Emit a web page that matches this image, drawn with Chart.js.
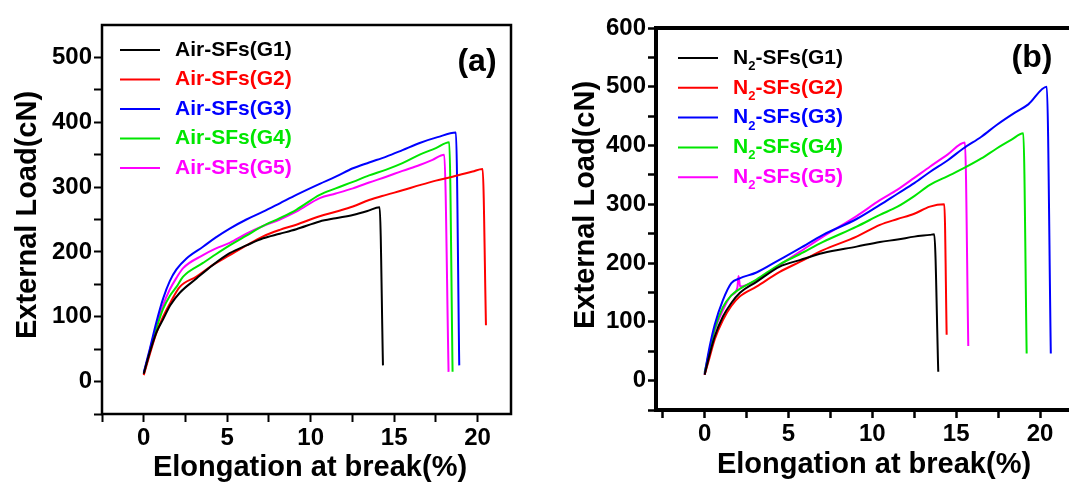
<!DOCTYPE html>
<html>
<head>
<meta charset="utf-8">
<script src="https://cdn.jsdelivr.net/npm/chart.js@4.4.1/dist/chart.umd.min.js"></script>
<style>
  html, body { margin: 0; padding: 0; background: #fff; }
  #page { position: relative; width: 1069px; height: 482px; overflow: hidden; }
  #wrapA { position: absolute; left: 0; top: 0; }
  #wrapB { position: absolute; left: 535px; top: 0; }
</style>
</head>
<body>
<div id="page">
  <div id="wrapA"><canvas id="chartA" width="535" height="500"></canvas></div>
  <div id="wrapB"><canvas id="chartB" width="600" height="500"></canvas></div>
</div>
<script>
// ---- data: [elongation %, load cN] ----
const airG1 = [[0,12],[0.36,45],[0.76,76],[1.16,96],[1.6,118],[2.16,137],[3.16,159],[4.15,180],[5.15,198],[6.15,210],[7.15,221],[8.15,228],[9.14,235],[10.54,247],[11.5,252],[12.53,257],[13.4,263],[14.13,269],[14.33,25]];
const airG2 = [[0,10],[0.36,42],[0.76,75],[1.16,100],[1.6,122],[2.16,146],[3.16,162],[4.15,180],[5.15,195],[6.15,210],[7.15,224],[8.15,234],[9.14,242],[10.54,255],[11.5,262],[12.53,270],[13.5,280],[14.53,288],[15.5,295],[16.53,303],[17.5,310],[18.5,316],[19.7,324],[20.3,328],[20.5,87]];
const airG3 = [[0,14],[0.36,50],[0.76,92],[1.16,128],[1.56,155],[1.96,173],[2.56,190],[3.55,208],[4.3,222],[5.15,236],[6.15,250],[7.15,262],[8.15,275],[9.14,288],[10.54,305],[11.5,316],[12.53,329],[13.5,338],[14.53,347],[15.5,357],[16.53,368],[17.6,377],[18.7,384],[18.9,25]];
const airG4 = [[0,12],[0.36,46],[0.76,82],[1.16,112],[1.56,132],[1.96,146],[2.36,162],[3.55,183],[4.3,196],[5.15,210],[6.15,225],[7.15,240],[8.15,252],[9.14,265],[10.54,288],[11.5,298],[12.53,308],[13.5,318],[14.53,327],[15.5,337],[16.53,350],[17.5,360],[18.3,369],[18.5,15]];
const airG5 = [[0,12],[0.36,48],[0.76,86],[1.16,118],[1.56,142],[1.96,160],[2.36,175],[3.55,195],[4.3,205],[5.15,214],[6.15,228],[7.15,240],[8.15,250],[9.14,262],[10.54,283],[11.5,290],[12.53,298],[13.5,307],[14.53,316],[15.5,325],[16.53,334],[17.3,342],[18.0,350],[18.26,15]];

const n2G1 = [[0,10],[0.3,45],[0.6,75],[1.09,109],[1.59,132],[2.09,149],[3.09,168],[4.48,194],[5.67,205],[7.06,217],[9.06,228],[10.45,236],[11.5,240],[12.5,245],[13.43,248],[13.69,249],[13.93,15]];
const n2G2 = [[0,10],[0.3,40],[0.6,70],[1.09,103],[1.59,127],[2.09,143],[3.09,160],[4.48,185],[5.67,202],[7.06,222],[9.06,245],[10.45,265],[11.5,275],[12.5,284],[13.43,296],[14.29,300],[14.43,78]];
const n2G3 = [[0,12],[0.3,58],[0.6,95],[1.09,137],[1.59,166],[2.09,174],[3.09,184],[4.48,206],[5.67,225],[7.06,248],[9.06,275],[10.45,299],[11.5,318],[12.5,336],[13.43,355],[14.5,375],[15.42,395],[16.5,415],[17.41,435],[18.5,456],[19.3,470],[20.4,500],[20.64,46]];
const n2G4 = [[0,14],[0.3,52],[0.6,88],[1.09,125],[1.59,145],[2.09,156],[3.09,172],[4.48,198],[5.67,215],[7.06,236],[9.06,262],[10.45,282],[11.5,296],[12.5,314],[13.43,333],[14.5,348],[15.42,361],[16.5,378],[17.41,395],[18.3,410],[19.0,421],[19.2,46]];
const n2G5 = [[0,10],[0.3,50],[0.6,85],[1.09,120],[1.59,145],[1.95,158],[2.02,178],[2.12,160],[3.09,171],[4.48,197],[5.67,219],[7.06,245],[9.06,280],[10.45,307],[11.5,325],[12.5,345],[13.43,364],[14.5,385],[15.52,405],[15.72,59]];

const airLabels = ['Air-SFs(G1)', 'Air-SFs(G2)', 'Air-SFs(G3)', 'Air-SFs(G4)', 'Air-SFs(G5)'];
const n2Labels = ['N₂-SFs(G1)', 'N₂-SFs(G2)', 'N₂-SFs(G3)', 'N₂-SFs(G4)', 'N₂-SFs(G5)'];
const colors = ['#000000', '#ff0000', '#0000ff', '#00e600', '#ff00ff'];

const xTicksA = [-2.5, 0, 2.5, 5, 7.5, 10, 12.5, 15, 17.5, 20];
const xLabelsA = ['', '0', '', '5', '', '10', '', '15', '', '20'];
const yTicksA = [-50, 0, 50, 100, 150, 200, 250, 300, 350, 400, 450, 500];
const yLabelsA = ['', '0', '', '100', '', '200', '', '300', '', '400', '', '500'];
const xTicksB = [-2.5, 0, 2.5, 5, 7.5, 10, 12.5, 15, 17.5, 20, 22.5];
const xLabelsB = ['', '0', '', '5', '', '10', '', '15', '', '20', ''];
const yTicksB = [-50, 0, 50, 100, 150, 200, 250, 300, 350, 400, 450, 500, 550, 600];
const yLabelsB = ['', '0', '', '100', '', '200', '', '300', '', '400', '', '500', '', '600'];

const FONT = '"Liberation Sans", Arial, sans-serif';
Chart.defaults.font.family = FONT;
Chart.defaults.color = '#000';

// frame, inline legend, panel letter and axis titles
const decor = {
  id: 'decor',
  afterDraw(chart, args, o) {
    const ctx = chart.ctx;
    const a = chart.chartArea;
    ctx.save();
    ctx.strokeStyle = '#000';
    ctx.lineWidth = o.frame;
    ctx.strokeRect(a.left, a.top, a.right - a.left, a.bottom - a.top);

    ctx.textBaseline = 'middle';
    ctx.textAlign = 'left';
    chart.data.datasets.forEach((ds, i) => {
      const y = o.legTop + i * o.legStep;
      ctx.strokeStyle = ds.borderColor;
      ctx.lineWidth = 2;
      ctx.beginPath();
      ctx.moveTo(o.lineX0, y);
      ctx.lineTo(o.lineX1, y);
      ctx.stroke();
      ctx.fillStyle = ds.borderColor;
      const parts = ds.label.split('₂');
      let x = o.textX;
      ctx.font = 'bold ' + o.legSize + 'px ' + FONT;
      ctx.fillText(parts[0], x, y);
      x += ctx.measureText(parts[0]).width;
      if (parts.length > 1) {
        ctx.font = 'bold ' + Math.round(o.legSize * 0.6) + 'px ' + FONT;
        ctx.fillText('2', x, y + o.legSize * 0.4);
        x += ctx.measureText('2').width;
        ctx.font = 'bold ' + o.legSize + 'px ' + FONT;
        ctx.fillText(parts[1], x, y);
      }
    });

    ctx.fillStyle = '#000';
    ctx.font = 'bold 32px ' + FONT;
    ctx.textAlign = 'center';
    ctx.fillText(o.letter, o.letterX, o.letterY);

    ctx.font = 'bold 29px ' + FONT;
    ctx.fillText('Elongation at break(%)', o.xtX, o.xtY);
    ctx.translate(o.ytX, o.ytY);
    ctx.rotate(-Math.PI / 2);
    ctx.fillText('External Load(cN)', 0, 0);
    ctx.restore();
  }
};

function makePanel(id, series, labels, p) {
  return new Chart(document.getElementById(id), {
    type: 'line',
    data: {
      datasets: series.map((s, i) => ({
        label: labels[i],
        data: s.map(d => ({ x: d[0], y: d[1] })),
        borderColor: colors[i],
        borderWidth: 2,
        pointRadius: 0,
        cubicInterpolationMode: 'monotone',
        fill: false
      }))
    },
    options: {
      responsive: false,
      animation: false,
      devicePixelRatio: 1,
      layout: { padding: { top: p.padTop, right: p.padRight, left: 0, bottom: 0 } },
      scales: {
        x: {
          type: 'linear',
          min: p.xMin, max: p.xMax,
          afterBuildTicks: s => { s.ticks = p.xTicks.map(v => ({ value: v })); },
          afterFit: s => { s.height = p.xHeight; },
          border: { display: false },
          grid: { drawOnChartArea: false, tickLength: 8, tickWidth: p.tickW, tickColor: '#000' },
          ticks: {
            autoSkip: false, maxRotation: 0, padding: 2,
            font: { size: 24, weight: 'bold' }, color: '#000',
            callback: (v, i) => p.xLabels[i]
          }
        },
        y: {
          type: 'linear',
          min: p.yMin, max: p.yMax,
          afterBuildTicks: s => { s.ticks = p.yTicks.map(v => ({ value: v })); },
          afterFit: s => { s.width = p.yWidth; },
          border: { display: false },
          grid: { drawOnChartArea: false, tickLength: 8, tickWidth: p.tickW, tickColor: '#000' },
          ticks: {
            autoSkip: false, padding: 2,
            font: { size: 24, weight: 'bold' }, color: '#000',
            callback: (v, i) => p.yLabels[i]
          }
        }
      },
      plugins: {
        legend: { display: false },
        tooltip: { enabled: false },
        decor: p.decor
      }
    },
    plugins: [decor]
  });
}

makePanel('chartA', [airG1, airG2, airG3, airG4, airG5], airLabels, {
  xMin: -2.5, xMax: 22, yMin: -50, yMax: 550,
  xTicks: xTicksA, xLabels: xLabelsA, yTicks: yTicksA, yLabels: yLabelsA,
  padTop: 25, padRight: 24, yWidth: 102, xHeight: 86, tickW: 2,
  decor: { frame: 2.5, legTop: 50, legStep: 29.5, lineX0: 120, lineX1: 160, textX: 175, legSize: 21,
           letter: '(a)', letterX: 477, letterY: 62, xtX: 310, xtY: 468, ytX: 28, ytY: 215 }
});

makePanel('chartB', [n2G1, n2G2, n2G3, n2G4, n2G5], n2Labels, {
  xMin: -2.9, xMax: 22.5, yMin: -50, yMax: 600,
  xTicks: xTicksB, xLabels: xLabelsB, yTicks: yTicksB, yLabels: yLabelsB,
  padTop: 28, padRight: 53, yWidth: 121, xHeight: 90, tickW: 2.5,
  decor: { frame: 4, legTop: 58, legStep: 29.8, lineX0: 143, lineX1: 183, textX: 198, legSize: 21,
           letter: '(b)', letterX: 497, letterY: 58, xtX: 339, xtY: 465, ytX: 51, ytY: 205 }
});
</script>
</body>
</html>
